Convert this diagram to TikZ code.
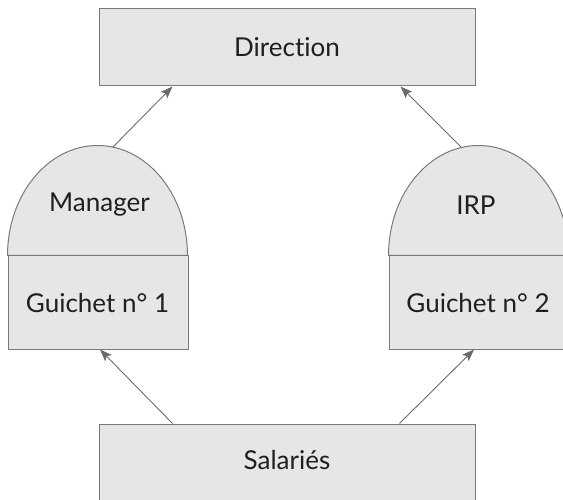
\documentclass[tikz,border=0pt]{standalone}
\usepackage{fontspec}
\setmainfont{Lato}[Ligatures={NoCommon}]
\usetikzlibrary{arrows.meta}
\definecolor{boxfill}{HTML}{E5E6E8}
\definecolor{boxline}{HTML}{7A7A7A}
\definecolor{arrowgray}{HTML}{6A6A6A}
\tikzset{
  box/.style={draw=boxline, fill=boxfill, line width=1pt, inner sep=0pt},
  lbl/.style={font=\fontsize{26}{29}\selectfont, text=black!88},
  link/.style={draw=arrowgray, line width=0.9pt, -{Stealth[length=12pt,width=9pt,inset=2.5pt]}}
}
\begin{document}
\begin{tikzpicture}[x=1pt,y=1pt]
      \useasboundingbox (0,0) rectangle (563,499);
      \clip (0,0) rectangle (563,499);
      \node[box, minimum width=376pt, minimum height=77pt] (dir) at (287,451.5) {};
      \node[box, minimum width=376pt, minimum height=77pt] (sal) at (287,36.5) {};
      \node[box, minimum width=180pt, minimum height=93pt] (g1) at (98,196.5) {};
      \node[box, minimum width=180pt, minimum height=93pt] (g2) at (479,196.5) {};
      % domes
      \draw[box] (g1.north west) arc[start angle=180, end angle=0, x radius=90, y radius=110] -- cycle;
      \draw[box] (g2.north west) arc[start angle=180, end angle=0, x radius=90, y radius=110] -- cycle;
      \coordinate (mtop) at ([shift={(15,108.5)}]g1.north);
      \coordinate (itop) at ([shift={(-18,108.5)}]g2.north);
      % labels
      \node[lbl] (dirtext) at (287,452) {Direction};
      \node[lbl] (saltext) at (287,39) {Salariés};
      \node[lbl] (mgr) at (99.5,294) {Manager};
      \node[lbl] (irp) at (476,294) {IRP};
      \node[lbl] (g1text) at (97.5,196) {Guichet n° 1};
      \node[lbl] (g2text) at (478,196) {Guichet n° 2};
      \begin{scope}
        \draw[link] (mtop) to ([xshift=74pt]dir.south west);
        \draw[link] (itop) to ([xshift=-75pt]dir.south east);
        \draw[link] ([xshift=74pt]sal.north west) to ([xshift=2pt]g1.south);
        \draw[link] ([xshift=-76pt]sal.north east) to ([xshift=-5pt]g2.south);
      \end{scope}
    \end{tikzpicture}
\end{document}
